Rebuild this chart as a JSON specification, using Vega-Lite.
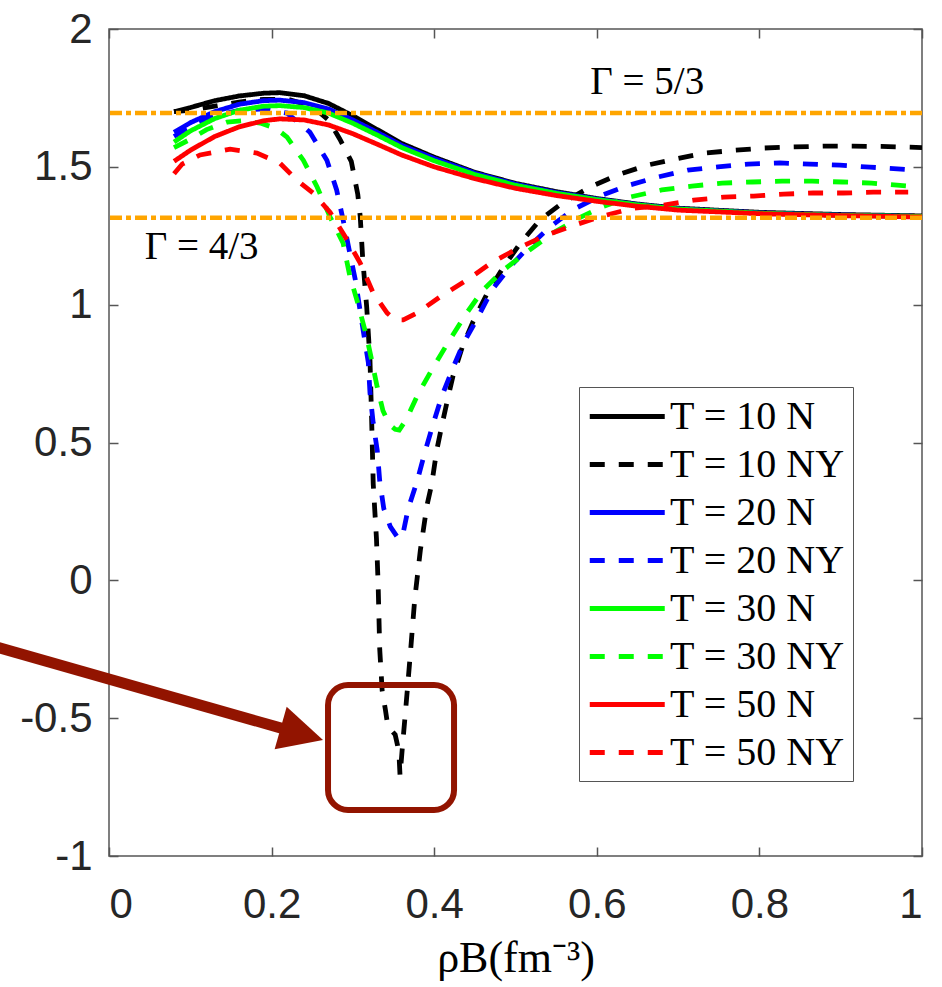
{
  "$schema": "https://vega.github.io/schema/vega-lite/v6.json",
  "width": 813,
  "height": 827,
  "autosize": {"type": "none"},
  "padding": {"left": 109, "top": 29, "right": 20, "bottom": 131},
  "background": "white",
  "config": {
    "view": {"stroke": "#555555", "strokeWidth": 1.5},
    "axis": {
      "domain": false, "grid": false,
      "tickColor": "#555555", "tickWidth": 1.5, "tickSize": -9,
      "labelFont": "Liberation Sans", "labelFontSize": 42, "labelColor": "#262626"
    }
  },
  "datasets": {
    "curves": [
      {"s":"T = 10 N","x":0.08,"y":1.70},{"s":"T = 10 N","x":0.10,"y":1.715},{"s":"T = 10 N","x":0.13,"y":1.74},{"s":"T = 10 N","x":0.16,"y":1.757},{"s":"T = 10 N","x":0.19,"y":1.767},{"s":"T = 10 N","x":0.21,"y":1.769},{"s":"T = 10 N","x":0.24,"y":1.758},{"s":"T = 10 N","x":0.27,"y":1.73},{"s":"T = 10 N","x":0.30,"y":1.685},{"s":"T = 10 N","x":0.33,"y":1.635},{"s":"T = 10 N","x":0.36,"y":1.585},{"s":"T = 10 N","x":0.40,"y":1.535},{"s":"T = 10 N","x":0.45,"y":1.48},{"s":"T = 10 N","x":0.50,"y":1.44},{"s":"T = 10 N","x":0.55,"y":1.41},{"s":"T = 10 N","x":0.60,"y":1.385},{"s":"T = 10 N","x":0.65,"y":1.365},{"s":"T = 10 N","x":0.70,"y":1.35},{"s":"T = 10 N","x":0.80,"y":1.335},{"s":"T = 10 N","x":0.90,"y":1.327},{"s":"T = 10 N","x":1.00,"y":1.322},

      {"s":"T = 10 NY","x":0.08,"y":1.70},{"s":"T = 10 NY","x":0.10,"y":1.705},{"s":"T = 10 NY","x":0.13,"y":1.72},{"s":"T = 10 NY","x":0.16,"y":1.735},{"s":"T = 10 NY","x":0.19,"y":1.745},{"s":"T = 10 NY","x":0.22,"y":1.745},{"s":"T = 10 NY","x":0.25,"y":1.72},{"s":"T = 10 NY","x":0.27,"y":1.67},{"s":"T = 10 NY","x":0.284,"y":1.60},{"s":"T = 10 NY","x":0.298,"y":1.52},{"s":"T = 10 NY","x":0.306,"y":1.40},{"s":"T = 10 NY","x":0.309,"y":1.32},{"s":"T = 10 NY","x":0.312,"y":1.17},{"s":"T = 10 NY","x":0.317,"y":0.99},{"s":"T = 10 NY","x":0.321,"y":0.80},{"s":"T = 10 NY","x":0.323,"y":0.59},{"s":"T = 10 NY","x":0.325,"y":0.35},{"s":"T = 10 NY","x":0.329,"y":0.15},{"s":"T = 10 NY","x":0.331,"y":-0.01},{"s":"T = 10 NY","x":0.333,"y":-0.25},{"s":"T = 10 NY","x":0.336,"y":-0.40},{"s":"T = 10 NY","x":0.340,"y":-0.47},{"s":"T = 10 NY","x":0.343,"y":-0.53},{"s":"T = 10 NY","x":0.352,"y":-0.56},{"s":"T = 10 NY","x":0.355,"y":-0.60},{"s":"T = 10 NY","x":0.357,"y":-0.65},{"s":"T = 10 NY","x":0.358,"y":-0.71},{"s":"T = 10 NY","x":0.361,"y":-0.60},{"s":"T = 10 NY","x":0.364,"y":-0.50},{"s":"T = 10 NY","x":0.370,"y":-0.29},{"s":"T = 10 NY","x":0.376,"y":-0.07},{"s":"T = 10 NY","x":0.383,"y":0.11},{"s":"T = 10 NY","x":0.391,"y":0.27},{"s":"T = 10 NY","x":0.397,"y":0.35},{"s":"T = 10 NY","x":0.403,"y":0.47},{"s":"T = 10 NY","x":0.410,"y":0.57},{"s":"T = 10 NY","x":0.416,"y":0.65},{"s":"T = 10 NY","x":0.423,"y":0.74},{"s":"T = 10 NY","x":0.435,"y":0.85},{"s":"T = 10 NY","x":0.448,"y":0.94},{"s":"T = 10 NY","x":0.465,"y":1.04},{"s":"T = 10 NY","x":0.485,"y":1.136},{"s":"T = 10 NY","x":0.506,"y":1.223},{"s":"T = 10 NY","x":0.530,"y":1.307},{"s":"T = 10 NY","x":0.558,"y":1.37},{"s":"T = 10 NY","x":0.592,"y":1.427},{"s":"T = 10 NY","x":0.625,"y":1.47},{"s":"T = 10 NY","x":0.662,"y":1.506},{"s":"T = 10 NY","x":0.699,"y":1.53},{"s":"T = 10 NY","x":0.733,"y":1.55},{"s":"T = 10 NY","x":0.770,"y":1.56},{"s":"T = 10 NY","x":0.804,"y":1.568},{"s":"T = 10 NY","x":0.841,"y":1.572},{"s":"T = 10 NY","x":0.878,"y":1.575},{"s":"T = 10 NY","x":0.915,"y":1.575},{"s":"T = 10 NY","x":0.95,"y":1.574},{"s":"T = 10 NY","x":1.00,"y":1.57},

      {"s":"T = 20 N","x":0.08,"y":1.625},{"s":"T = 20 N","x":0.10,"y":1.66},{"s":"T = 20 N","x":0.13,"y":1.70},{"s":"T = 20 N","x":0.16,"y":1.727},{"s":"T = 20 N","x":0.19,"y":1.74},{"s":"T = 20 N","x":0.21,"y":1.742},{"s":"T = 20 N","x":0.24,"y":1.733},{"s":"T = 20 N","x":0.27,"y":1.71},{"s":"T = 20 N","x":0.30,"y":1.67},{"s":"T = 20 N","x":0.33,"y":1.625},{"s":"T = 20 N","x":0.36,"y":1.578},{"s":"T = 20 N","x":0.40,"y":1.53},{"s":"T = 20 N","x":0.45,"y":1.477},{"s":"T = 20 N","x":0.50,"y":1.437},{"s":"T = 20 N","x":0.55,"y":1.407},{"s":"T = 20 N","x":0.60,"y":1.383},{"s":"T = 20 N","x":0.65,"y":1.363},{"s":"T = 20 N","x":0.70,"y":1.348},{"s":"T = 20 N","x":0.80,"y":1.333},{"s":"T = 20 N","x":0.90,"y":1.325},{"s":"T = 20 N","x":1.00,"y":1.32},

      {"s":"T = 20 NY","x":0.08,"y":1.61},{"s":"T = 20 NY","x":0.10,"y":1.645},{"s":"T = 20 NY","x":0.13,"y":1.685},{"s":"T = 20 NY","x":0.16,"y":1.705},{"s":"T = 20 NY","x":0.19,"y":1.71},{"s":"T = 20 NY","x":0.219,"y":1.695},{"s":"T = 20 NY","x":0.247,"y":1.626},{"s":"T = 20 NY","x":0.268,"y":1.524},{"s":"T = 20 NY","x":0.280,"y":1.416},{"s":"T = 20 NY","x":0.288,"y":1.307},{"s":"T = 20 NY","x":0.296,"y":1.19},{"s":"T = 20 NY","x":0.303,"y":1.09},{"s":"T = 20 NY","x":0.313,"y":0.90},{"s":"T = 20 NY","x":0.319,"y":0.79},{"s":"T = 20 NY","x":0.321,"y":0.68},{"s":"T = 20 NY","x":0.325,"y":0.57},{"s":"T = 20 NY","x":0.330,"y":0.47},{"s":"T = 20 NY","x":0.333,"y":0.36},{"s":"T = 20 NY","x":0.338,"y":0.26},{"s":"T = 20 NY","x":0.346,"y":0.195},{"s":"T = 20 NY","x":0.354,"y":0.16},{"s":"T = 20 NY","x":0.358,"y":0.15},{"s":"T = 20 NY","x":0.362,"y":0.175},{"s":"T = 20 NY","x":0.368,"y":0.26},{"s":"T = 20 NY","x":0.379,"y":0.36},{"s":"T = 20 NY","x":0.389,"y":0.47},{"s":"T = 20 NY","x":0.399,"y":0.57},{"s":"T = 20 NY","x":0.409,"y":0.665},{"s":"T = 20 NY","x":0.423,"y":0.77},{"s":"T = 20 NY","x":0.436,"y":0.86},{"s":"T = 20 NY","x":0.453,"y":0.95},{"s":"T = 20 NY","x":0.471,"y":1.053},{"s":"T = 20 NY","x":0.493,"y":1.136},{"s":"T = 20 NY","x":0.516,"y":1.209},{"s":"T = 20 NY","x":0.542,"y":1.281},{"s":"T = 20 NY","x":0.571,"y":1.345},{"s":"T = 20 NY","x":0.604,"y":1.394},{"s":"T = 20 NY","x":0.638,"y":1.432},{"s":"T = 20 NY","x":0.675,"y":1.463},{"s":"T = 20 NY","x":0.712,"y":1.488},{"s":"T = 20 NY","x":0.749,"y":1.50},{"s":"T = 20 NY","x":0.786,"y":1.51},{"s":"T = 20 NY","x":0.825,"y":1.514},{"s":"T = 20 NY","x":0.862,"y":1.51},{"s":"T = 20 NY","x":0.899,"y":1.506},{"s":"T = 20 NY","x":0.936,"y":1.499},{"s":"T = 20 NY","x":0.983,"y":1.49},

      {"s":"T = 30 N","x":0.08,"y":1.59},{"s":"T = 30 N","x":0.10,"y":1.63},{"s":"T = 30 N","x":0.13,"y":1.675},{"s":"T = 30 N","x":0.16,"y":1.705},{"s":"T = 30 N","x":0.19,"y":1.72},{"s":"T = 30 N","x":0.21,"y":1.722},{"s":"T = 30 N","x":0.24,"y":1.715},{"s":"T = 30 N","x":0.27,"y":1.695},{"s":"T = 30 N","x":0.30,"y":1.658},{"s":"T = 30 N","x":0.33,"y":1.615},{"s":"T = 30 N","x":0.36,"y":1.57},{"s":"T = 30 N","x":0.40,"y":1.522},{"s":"T = 30 N","x":0.45,"y":1.472},{"s":"T = 30 N","x":0.50,"y":1.433},{"s":"T = 30 N","x":0.55,"y":1.404},{"s":"T = 30 N","x":0.60,"y":1.381},{"s":"T = 30 N","x":0.65,"y":1.362},{"s":"T = 30 N","x":0.70,"y":1.347},{"s":"T = 30 N","x":0.80,"y":1.332},{"s":"T = 30 N","x":0.90,"y":1.324},{"s":"T = 30 N","x":1.00,"y":1.32},

      {"s":"T = 30 NY","x":0.08,"y":1.57},{"s":"T = 30 NY","x":0.10,"y":1.60},{"s":"T = 30 NY","x":0.12,"y":1.635},{"s":"T = 30 NY","x":0.145,"y":1.662},{"s":"T = 30 NY","x":0.165,"y":1.667},{"s":"T = 30 NY","x":0.186,"y":1.659},{"s":"T = 30 NY","x":0.205,"y":1.64},{"s":"T = 30 NY","x":0.219,"y":1.608},{"s":"T = 30 NY","x":0.239,"y":1.524},{"s":"T = 30 NY","x":0.256,"y":1.427},{"s":"T = 30 NY","x":0.272,"y":1.318},{"s":"T = 30 NY","x":0.288,"y":1.223},{"s":"T = 30 NY","x":0.296,"y":1.107},{"s":"T = 30 NY","x":0.306,"y":1.006},{"s":"T = 30 NY","x":0.317,"y":0.883},{"s":"T = 30 NY","x":0.323,"y":0.80},{"s":"T = 30 NY","x":0.330,"y":0.70},{"s":"T = 30 NY","x":0.337,"y":0.615},{"s":"T = 30 NY","x":0.345,"y":0.565},{"s":"T = 30 NY","x":0.352,"y":0.548},{"s":"T = 30 NY","x":0.357,"y":0.545},{"s":"T = 30 NY","x":0.366,"y":0.585},{"s":"T = 30 NY","x":0.380,"y":0.675},{"s":"T = 30 NY","x":0.399,"y":0.774},{"s":"T = 30 NY","x":0.419,"y":0.872},{"s":"T = 30 NY","x":0.440,"y":0.97},{"s":"T = 30 NY","x":0.460,"y":1.053},{"s":"T = 30 NY","x":0.485,"y":1.125},{"s":"T = 30 NY","x":0.514,"y":1.191},{"s":"T = 30 NY","x":0.546,"y":1.26},{"s":"T = 30 NY","x":0.579,"y":1.316},{"s":"T = 30 NY","x":0.606,"y":1.354},{"s":"T = 30 NY","x":0.640,"y":1.39},{"s":"T = 30 NY","x":0.680,"y":1.416},{"s":"T = 30 NY","x":0.717,"y":1.43},{"s":"T = 30 NY","x":0.754,"y":1.441},{"s":"T = 30 NY","x":0.791,"y":1.445},{"s":"T = 30 NY","x":0.828,"y":1.448},{"s":"T = 30 NY","x":0.865,"y":1.448},{"s":"T = 30 NY","x":0.902,"y":1.445},{"s":"T = 30 NY","x":0.938,"y":1.441},{"s":"T = 30 NY","x":0.983,"y":1.43},

      {"s":"T = 50 N","x":0.08,"y":1.52},{"s":"T = 50 N","x":0.10,"y":1.56},{"s":"T = 50 N","x":0.13,"y":1.61},{"s":"T = 50 N","x":0.16,"y":1.645},{"s":"T = 50 N","x":0.19,"y":1.667},{"s":"T = 50 N","x":0.21,"y":1.674},{"s":"T = 50 N","x":0.24,"y":1.67},{"s":"T = 50 N","x":0.27,"y":1.652},{"s":"T = 50 N","x":0.30,"y":1.62},{"s":"T = 50 N","x":0.33,"y":1.582},{"s":"T = 50 N","x":0.36,"y":1.543},{"s":"T = 50 N","x":0.40,"y":1.50},{"s":"T = 50 N","x":0.45,"y":1.457},{"s":"T = 50 N","x":0.50,"y":1.422},{"s":"T = 50 N","x":0.55,"y":1.396},{"s":"T = 50 N","x":0.60,"y":1.375},{"s":"T = 50 N","x":0.65,"y":1.357},{"s":"T = 50 N","x":0.70,"y":1.343},{"s":"T = 50 N","x":0.80,"y":1.33},{"s":"T = 50 N","x":0.90,"y":1.323},{"s":"T = 50 N","x":1.00,"y":1.318},

      {"s":"T = 50 NY","x":0.08,"y":1.475},{"s":"T = 50 NY","x":0.09,"y":1.51},{"s":"T = 50 NY","x":0.112,"y":1.543},{"s":"T = 50 NY","x":0.149,"y":1.564},{"s":"T = 50 NY","x":0.182,"y":1.55},{"s":"T = 50 NY","x":0.210,"y":1.514},{"s":"T = 50 NY","x":0.231,"y":1.452},{"s":"T = 50 NY","x":0.251,"y":1.405},{"s":"T = 50 NY","x":0.272,"y":1.335},{"s":"T = 50 NY","x":0.293,"y":1.234},{"s":"T = 50 NY","x":0.309,"y":1.151},{"s":"T = 50 NY","x":0.325,"y":1.042},{"s":"T = 50 NY","x":0.342,"y":0.97},{"s":"T = 50 NY","x":0.352,"y":0.945},{"s":"T = 50 NY","x":0.362,"y":0.945},{"s":"T = 50 NY","x":0.379,"y":0.97},{"s":"T = 50 NY","x":0.407,"y":1.028},{"s":"T = 50 NY","x":0.440,"y":1.089},{"s":"T = 50 NY","x":0.472,"y":1.155},{"s":"T = 50 NY","x":0.506,"y":1.209},{"s":"T = 50 NY","x":0.538,"y":1.252},{"s":"T = 50 NY","x":0.573,"y":1.289},{"s":"T = 50 NY","x":0.608,"y":1.322},{"s":"T = 50 NY","x":0.645,"y":1.35},{"s":"T = 50 NY","x":0.682,"y":1.361},{"s":"T = 50 NY","x":0.719,"y":1.379},{"s":"T = 50 NY","x":0.756,"y":1.39},{"s":"T = 50 NY","x":0.793,"y":1.394},{"s":"T = 50 NY","x":0.830,"y":1.401},{"s":"T = 50 NY","x":0.866,"y":1.405},{"s":"T = 50 NY","x":0.903,"y":1.405},{"s":"T = 50 NY","x":0.940,"y":1.408},{"s":"T = 50 NY","x":0.983,"y":1.408}
    ],
    "gammas": [{"g": 1.695}, {"g": 1.315}],
    "labels": [
      {"label": "Γ = 5/3", "x": 0.662, "y": 1.807},
      {"label": "Γ = 4/3", "x": 0.114, "y": 1.209}
    ],
    "arrow": [{"x": -0.1402, "y": -0.2401, "x2": 0.2226, "y2": -0.5452}],
    "head": [{"x": 0.2632, "y": -0.5793}],
    "box": [{"x": 0.2694, "x2": 0.4244, "y": -0.3798, "y2": -0.8332}]
  },
  "resolve": {"axis": {"x": "independent", "y": "independent"}},
  "layer": [
    {
      "data": {"name": "curves"},
      "mark": {"type": "line", "strokeWidth": 4.8, "strokeCap": "butt", "clip": true},
      "encoding": {
        "x": {
          "field": "x", "type": "quantitative",
          "scale": {"domain": [0, 1], "nice": false, "zero": false},
          "axis": {
            "orient": "bottom", "values": [0, 0.2, 0.4, 0.6, 0.8, 1],
            "labelExpr": "'' + datum.value", "labelPadding": 37,
            "title": "ρB(fm⁻³)", "titleFont": "Liberation Serif", "titleFontSize": 44,
            "titleFontWeight": "normal", "titleColor": "black",
            "titleY": 115, "titleBaseline": "alphabetic"
          }
        },
        "y": {
          "field": "y", "type": "quantitative",
          "scale": {"domain": [-1, 2], "nice": false, "zero": false},
          "axis": {
            "orient": "left", "values": [-1, -0.5, 0, 0.5, 1, 1.5, 2],
            "labelExpr": "'' + datum.value", "labelPadding": 26, "title": null
          }
        },
        "color": {
          "field": "s", "type": "nominal",
          "scale": {
            "domain": ["T = 10 N", "T = 10 NY", "T = 20 N", "T = 20 NY", "T = 30 N", "T = 30 NY", "T = 50 N", "T = 50 NY"],
            "range": ["#000000", "#000000", "#0000FF", "#0000FF", "#00FF00", "#00FF00", "#FF0000", "#FF0000"]
          },
          "legend": {
            "title": null, "orient": "none", "legendX": 470, "legendY": 358,
            "direction": "vertical", "padding": 8, "rowPadding": 6,
            "strokeColor": "#555555", "fillColor": "white",
            "labelFont": "Liberation Serif", "labelFontSize": 40, "labelColor": "black",
            "labelLimit": 400, "labelOffset": 40,
            "symbolType": "M -1 0 L 3 0", "symbolSize": 1406, "symbolStrokeWidth": 4.8
          }
        },
        "strokeDash": {
          "field": "s", "type": "nominal",
          "scale": {
            "domain": ["T = 10 N", "T = 10 NY", "T = 20 N", "T = 20 NY", "T = 30 N", "T = 30 NY", "T = 50 N", "T = 50 NY"],
            "range": [[1, 0], [15, 14], [1, 0], [15, 14], [1, 0], [15, 14], [1, 0], [15, 14]]
          },
          "legend": {
            "title": null, "orient": "none", "legendX": 470, "legendY": 358,
            "direction": "vertical", "padding": 8, "rowPadding": 6,
            "strokeColor": "#555555", "fillColor": "white",
            "labelFont": "Liberation Serif", "labelFontSize": 40, "labelColor": "black",
            "labelLimit": 400, "labelOffset": 40,
            "symbolType": "M -1 0 L 3 0", "symbolSize": 1406, "symbolStrokeWidth": 4.8
          }
        }
      }
    },
    {
      "data": {"name": "gammas"},
      "mark": {"type": "rule", "color": "#FFA500", "strokeWidth": 4.5, "strokeDash": [12, 4, 5, 4]},
      "encoding": {
        "y": {"field": "g", "type": "quantitative", "axis": null}
      }
    },
    {
      "data": {"name": "labels"},
      "mark": {"type": "text", "font": "Liberation Serif", "fontSize": 39, "color": "black", "align": "center", "baseline": "middle"},
      "encoding": {
        "x": {"field": "x", "type": "quantitative",
              "axis": {"orient": "top", "values": [0, 0.2, 0.4, 0.6, 0.8, 1], "labels": false, "title": null}},
        "y": {"field": "y", "type": "quantitative",
              "axis": {"orient": "right", "values": [-1, -0.5, 0, 0.5, 1, 1.5, 2], "labels": false, "title": null}},
        "text": {"field": "label"}
      }
    },
    {
      "data": {"name": "arrow"},
      "mark": {"type": "rule", "color": "#921400", "strokeWidth": 11, "strokeCap": "butt", "clip": false},
      "encoding": {
        "x": {"field": "x", "type": "quantitative", "axis": null},
        "y": {"field": "y", "type": "quantitative", "axis": null},
        "x2": {"field": "x2"},
        "y2": {"field": "y2"}
      }
    },
    {
      "data": {"name": "head"},
      "mark": {"type": "point", "shape": "M 0 0 L -2 -1 L -2 1 Z", "size": 1936, "angle": 15.9, "filled": true, "color": "#921400", "opacity": 1, "clip": false},
      "encoding": {
        "x": {"field": "x", "type": "quantitative", "axis": null},
        "y": {"field": "y", "type": "quantitative", "axis": null}
      }
    },
    {
      "data": {"name": "box"},
      "mark": {"type": "rect", "filled": false, "stroke": "#921400", "strokeWidth": 6, "cornerRadius": 20, "clip": false},
      "encoding": {
        "x": {"field": "x", "type": "quantitative", "axis": null},
        "x2": {"field": "x2"},
        "y": {"field": "y", "type": "quantitative", "axis": null},
        "y2": {"field": "y2"}
      }
    }
  ]
}
